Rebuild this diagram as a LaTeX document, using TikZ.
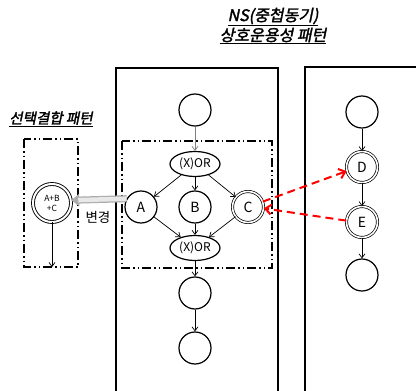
\documentclass[tikz,border=0pt]{standalone}
\usepackage{fontspec}
\setmainfont{Noto Sans CJK KR}
\newfontfamily\krtitle[FakeSlant=0.2,FakeBold=2]{Noto Sans CJK KR}
\usetikzlibrary{shapes.geometric,arrows.meta}
\begin{document}
\begin{tikzpicture}[x=1pt,y=-1pt,
  stnode/.style={circle,draw,line width=1.2pt,minimum size=32pt,inner sep=0pt,font=\fontsize{14}{14}\selectfont},
  dblnode/.style={circle,draw,double,double distance=1.6pt,line width=0.7pt,minimum size=31pt,inner sep=0pt,font=\fontsize{14}{14}\selectfont},
  xornode/.style={ellipse,draw,line width=1.2pt,minimum width=50pt,minimum height=25pt,inner sep=0pt,font=\fontsize{12}{12}\selectfont},
  flow/.style={-{Straight Barb[length=4pt,width=6pt]},line width=0.7pt},
  grayflow/.style={flow,draw=gray},
  dashbox/.style={line width=1.2pt,dash pattern=on 9pt off 3pt on 1.5pt off 3pt on 1.5pt off 3pt},
  panel/.style={line width=1.2pt},
  redarr/.style={-{Straight Barb[length=6pt,width=10pt]},red,line width=2pt,dash pattern=on 8pt off 5pt},
  ttl/.style={font=\krtitle\fontsize{16}{16}\selectfont,inner sep=0pt}]
\useasboundingbox (0,0) rectangle (416,391);
% titles
\node[ttl] (t1) at (273,17) {\underline{NS(중첩동기)}};
\node[ttl] (t2) at (273,36) {\underline{상호운용성 패턴}};
\node[ttl,font=\krtitle\fontsize{14.5}{14.5}\selectfont] (t3) at (51,119) {\underline{선택결합 패턴}};
% panels
\draw[panel] (116,391) -- (116,68) -- (278,68) -- (278,391);
\draw[panel] (416,67) -- (305,67) -- (305,391);
% dash-dot boxes
\draw[dashbox] (122,141) rectangle (272,268);
\draw[dashbox] (24,139) rectangle (78,267);
% middle column
\node[stnode] (m0) at (195,110) {};
\node[xornode] (x1) at (195,164) {(X)OR};
\node[stnode] (a) at (141,207) {A};
\node[stnode] (b) at (195,207) {B};
\node[dblnode] (c) at (248,207) {C};
\node[xornode] (x2) at (195,248) {(X)OR};
\node[stnode] (m1) at (195,293) {};
\node[stnode] (m2) at (195,348) {};
\draw[grayflow] (m0) -- (x1);
\draw[flow] (x1) -- (a);
\draw[flow] (x1) -- (b);
\draw[flow] (x1) -- (c);
\draw[flow] (a) -- (x2);
\draw[flow] (b) -- (x2);
\draw[flow] (c) -- (x2);
\draw[flow] (x2) -- (m1);
\draw[flow] (m1) -- (m2);
% right column
\node[stnode] (r0) at (362,112) {};
\node[dblnode] (d) at (362,167) {D};
\node[dblnode] (e) at (362,222) {E};
\node[stnode] (r1) at (362,275) {};
\draw[flow] (r0) -- (d);
\draw[flow] (d) -- (e);
\draw[flow] (e) -- (r1);
% left combined node
\node[circle,draw,double,double distance=2pt,line width=0.9pt,minimum size=38pt,inner sep=0pt,align=center,font=\fontsize{8.5}{10}\selectfont] (lc) at (52,203) {A+B\\+C};
\coordinate (lcend) at (52,267);
\draw[flow] (lc) -- (lcend);
% gray change arrow
\draw[-{Triangle[length=8pt,width=12pt]},line width=7pt,draw=gray!65] (a.150) -- (lc.8);
\draw[line width=4.5pt,draw=gray!18,shorten >=7pt] (a.150) -- (lc.8);
\node[font=\fontsize{13.5}{13.5}\selectfont,inner sep=0pt] (chg) at (98,217) {변경};
% red dashed arrows
\draw[redarr] (c.20) -- (d.195);
\draw[redarr] (e.175) -- (c.-5);
\end{tikzpicture}
\end{document}
